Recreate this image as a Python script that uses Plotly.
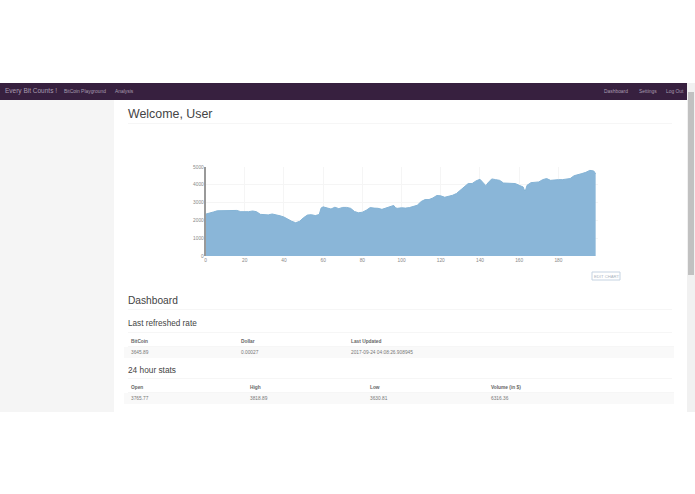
import plotly.graph_objects as go

W, H = 695, 494

# Price series
x_vals = [0, 2, 4, 6, 8, 10, 12, 14, 16, 18, 20, 22, 24, 26, 28, 30, 32, 34, 36, 38,
          40, 42, 44, 46, 48, 50, 52, 54, 56, 58, 59, 60, 62, 64, 66, 68, 70, 72, 74, 76, 78,
          80, 82, 84, 86, 88, 90, 92, 94, 96, 97, 98, 100, 102, 104, 106, 108, 110, 112, 114, 116, 118,
          120, 122, 124, 126, 128, 130, 132, 134, 136, 138, 140, 142, 143, 144, 146, 148, 150, 152, 154, 156, 158,
          160, 162, 163, 164, 166, 168, 170, 172, 174, 176, 178, 180, 182, 184, 186, 188, 190, 192, 194, 196, 198, 199]
y_vals = [2350, 2430, 2470, 2540, 2550, 2540, 2570, 2580, 2560, 2490, 2480, 2490, 2530, 2490, 2340, 2320, 2310, 2360, 2330, 2260,
          2190, 2050, 1950, 1870, 1950, 2150, 2300, 2320, 2270, 2330, 2700, 2760, 2700, 2640, 2740, 2660, 2730, 2730, 2680, 2500, 2430,
          2460, 2570, 2720, 2690, 2680, 2620, 2700, 2740, 2840, 2700, 2680, 2710, 2690, 2720, 2770, 2850, 3060, 3170, 3170, 3260, 3400,
          3380, 3300, 3340, 3410, 3510, 3690, 3880, 4070, 4070, 4220, 4310, 4030, 3950, 4100, 4330, 4290, 4250, 4100, 4100, 4100, 4070,
          3970, 3880, 3600, 3970, 4120, 4160, 4160, 4290, 4350, 4250, 4290, 4290, 4290, 4330, 4350, 4510, 4550, 4630, 4700, 4810, 4780, 4620]
x_ticks = [0, 20, 40, 60, 80, 100, 120, 140, 160, 180]
y_ticks = [0, 1000, 2000, 3000, 4000, 5000]

nav_left = ["BitCoin Playground", "Analysis"]
nav_right = ["Dashboard", "Settings", "Log Out"]
rate_headers = ["BitCoin", "Dollar", "Last Updated"]
rate_values = ["3645.89", "0.00027", "2017-09-24 04:08:26.908945"]
stats_headers = ["Open", "High", "Low", "Volume (in $)"]
stats_values = ["3765.77", "3818.89", "3630.81", "6316.36"]


def px(x):
    return x / W


def py(y):
    return 1 - y / H


def box(x0, y0, x1, y1, color, line=None):
    return dict(type="rect", xref="paper", yref="paper", layer="below",
                x0=px(x0), x1=px(x1), y0=py(y0), y1=py(y1), fillcolor=color,
                line=dict(color=line or color, width=1 if line else 0))


def label(x, y, text, size, color="#666666", anchor="left"):
    return dict(xref="paper", yref="paper", x=px(x), y=py(y), text=text, showarrow=False,
                xanchor=anchor, yanchor="middle", font=dict(size=size, color=color))


fig = go.Figure()
fig.add_trace(go.Scatter(x=x_vals, y=y_vals, mode="lines", fill="tozeroy",
                         line=dict(color="#84b3d5", width=1), fillcolor="#8ab6d8",
                         hoverinfo="skip", showlegend=False))

shapes = [
    box(0, 83, 687, 100, "#37203f"),
    box(0, 100, 114, 412, "#f5f5f5"),
    box(687, 83, 695, 412, "#f1f1f1"),
    box(688, 92, 694, 275, "#c1c1c1"),
    box(124, 347, 674, 358, "#f9f9f9"),
    box(124, 393, 674, 404, "#f9f9f9"),
    box(592, 272, 620, 280, "#ffffff", "#c5d3e2"),
]
for y, x1 in [(123, 672), (309, 672), (332, 672), (378, 672), (346.5, 674), (392.5, 674)]:
    shapes.append(box(128, y, x1, y + 0.6, "#eeeeee"))

notes = [
    label(3, 91, "Every Bit Counts !", 6.5, "#a99db0"),
    label(62, 91, nav_left[0], 4.9, "#a99db0"),
    label(113, 91, nav_left[1], 4.9, "#a99db0"),
    label(126, 113.5, "Welcome, User", 12.4, "#444444"),
    label(126, 300, "Dashboard", 10.2, "#444444"),
    label(126, 323.5, "Last refreshed rate", 8.2, "#444444"),
    label(126, 370, "24 hour stats", 8.3, "#444444"),
    label(606, 276, "EDIT CHART", 4.2, "#aab4c0", "center"),
]
for x, text in zip([602, 637, 664], nav_right):
    notes.append(label(x, 91, text, 4.9, "#a99db0"))
for x, head, val in zip([129, 239, 349], rate_headers, rate_values):
    notes.append(label(x, 341, "<b>" + head + "</b>", 4.8))
    notes.append(label(x, 352.5, val, 4.8, "#777777"))
for x, head, val in zip([129, 248, 368, 489], stats_headers, stats_values):
    notes.append(label(x, 387.5, "<b>" + head + "</b>", 4.8))
    notes.append(label(x, 398.5, val, 4.8, "#777777"))

fig.update_layout(
    width=W, height=H, margin=dict(l=0, r=0, t=0, b=0, autoexpand=False),
    paper_bgcolor="white", plot_bgcolor="white",
    font=dict(family="Liberation Sans, Arial, sans-serif"),
    shapes=shapes, annotations=notes,
    xaxis=dict(domain=[px(205.5), px(598)], range=[0, 200.2], tickvals=x_ticks,
               gridcolor="#f5f5f5", zeroline=False, showline=False, ticks="",
               tickfont=dict(size=4.8, color="#888888")),
    yaxis=dict(domain=[py(256), py(167)], range=[0, 5000], tickvals=y_ticks,
               gridcolor="#f5f5f5", zeroline=False, showline=True, linecolor="#999999", linewidth=1.5,
               ticks="", ticklabelstandoff=-1, tickfont=dict(size=4.8, color="#888888")),
)

fig.write_html("out.html", config=dict(displayModeBar=False),
               post_script="document.body.style.margin='0';document.body.style.overflow='hidden';")
